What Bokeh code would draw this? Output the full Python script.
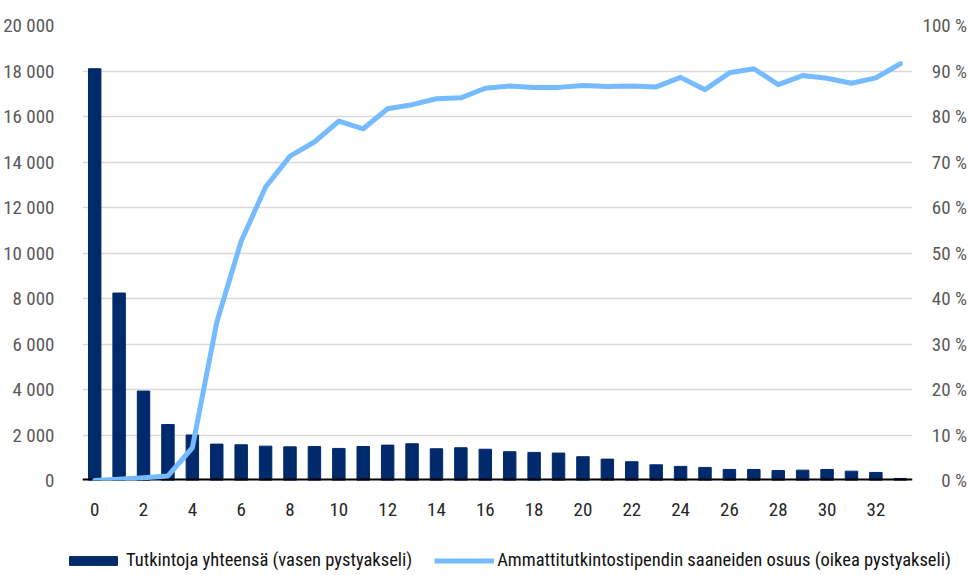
from bokeh.plotting import figure
from bokeh.layouts import column, row
from bokeh.models import (Range1d, LinearAxis, FixedTicker, Legend, LegendItem, ColumnDataSource)
from bokeh.embed import file_html
from bokeh.resources import INLINE

# ---- data ----
years = list(range(34))
x_tick_values = list(range(0, 33, 2))
degrees_total = [18100, 8240, 3930, 2460, 2000, 1600, 1570, 1510, 1480, 1495,
                 1410, 1495, 1555, 1615, 1395, 1440, 1375, 1265, 1235, 1205,
                 1045, 940, 825, 690, 620, 575, 485, 485, 440, 455,
                 485, 410, 355, 90]
grant_share_pct = [0.0, 0.3, 0.6, 1.0, 7.2, 34.8, 52.6, 64.5, 71.3, 74.4,
                   79.0, 77.3, 81.7, 82.6, 83.9, 84.1, 86.2, 86.7, 86.4, 86.4,
                   86.8, 86.6, 86.7, 86.5, 88.6, 85.9, 89.6, 90.5, 87.0, 89.0,
                   88.4, 87.3, 88.5, 91.6]
left_ticks = list(range(0, 20001, 2000))
left_labels = ["0", "2 000", "4 000", "6 000", "8 000", "10 000", "12 000",
               "14 000", "16 000", "18 000", "20 000"]
right_ticks = list(range(0, 101, 10))
right_labels = ["0 %", "10 %", "20 %", "30 %", "40 %", "50 %", "60 %",
                "70 %", "80 %", "90 %", "100 %"]
series_names = ["Tutkintoja yhteensä (vasen pystyakseli)",
                "Ammattitutkintostipendin saaneiden osuus (oikea pystyakseli)"]

FONT = "Roboto Condensed"
BAR_COLOR = "#002A6B"
LINE_COLOR = "#76BAFF"
GRID_COLOR = "#D9D9D9"
LABEL_COLOR = "#595959"

src = ColumnDataSource(dict(x=years, total=degrees_total, share=grant_share_pct))

p = figure(width=970, height=520, output_backend="svg", toolbar_location=None,
           x_range=Range1d(-0.5, 33.5), y_range=Range1d(0, 20000),
           min_border_left=82, min_border_right=55, min_border_top=25,
           min_border_bottom=40)
p.outline_line_color = None
p.extra_y_ranges = {"pct": Range1d(0, 100)}

bars = p.vbar(x="x", top="total", width=0.51, color=BAR_COLOR, source=src)
p.hspan(y=[0], line_color="black", line_width=4)
line = p.line(x="x", y="share", line_color=LINE_COLOR, line_width=5,
              line_join="round", line_cap="round", y_range_name="pct", source=src)

# axes
p.xaxis.ticker = FixedTicker(ticks=x_tick_values)
p.xaxis.axis_line_color = None
p.xaxis.major_tick_line_color = None
p.xaxis.minor_tick_line_color = None
p.xaxis.major_label_standoff = 16
p.xaxis.major_label_text_font = FONT
p.xaxis.major_label_text_font_size = "19px"
p.xaxis.major_label_text_color = "#262626"

p.yaxis.ticker = FixedTicker(ticks=left_ticks)
p.yaxis.major_label_overrides = dict(zip(left_ticks, left_labels))
p.yaxis.axis_line_color = None
p.yaxis.major_tick_line_color = None
p.yaxis.minor_tick_line_color = None
p.yaxis.major_label_standoff = 22
p.yaxis.major_label_text_font = FONT
p.yaxis.major_label_text_font_size = "19px"
p.yaxis.major_label_text_color = LABEL_COLOR

fig_space = "\u2007"
max_len = max(len(s) for s in right_labels)
padded = [fig_space * (max_len - len(s)) + s for s in right_labels]
raxis = LinearAxis(y_range_name="pct", ticker=FixedTicker(ticks=right_ticks))
raxis.major_label_overrides = dict(zip(right_ticks, padded))
raxis.axis_line_color = None
raxis.major_tick_line_color = None
raxis.minor_tick_line_color = None
raxis.major_label_standoff = 4
raxis.major_label_text_font = FONT
raxis.major_label_text_font_size = "19px"
raxis.major_label_text_color = LABEL_COLOR
p.add_layout(raxis, "right")

p.xgrid.grid_line_color = None
p.ygrid.ticker = FixedTicker(ticks=left_ticks)
p.ygrid.grid_line_color = GRID_COLOR
p.ygrid.grid_line_width = 1.5

# legend strip (separate figure; its key renderers sit outside the visible range)
lg = figure(width=970, height=55, output_backend="svg", toolbar_location=None,
            x_axis_type=None, y_axis_type=None, x_range=Range1d(0, 1),
            y_range=Range1d(0, 1), min_border=0)
lg.outline_line_color = None
lg.xgrid.grid_line_color = None
lg.ygrid.grid_line_color = None
key_src = ColumnDataSource(dict(x=[-10, -9], total=[0, 0], share=[0, 0]))
kbar = lg.vbar(x="x", top="total", width=0.5, color=BAR_COLOR, source=key_src)
kline = lg.line(x="x", y="share", line_color=LINE_COLOR, line_width=5,
                line_cap="butt", source=key_src)
legend = Legend(items=[LegendItem(label=series_names[0], renderers=[kbar]),
                       LegendItem(label=series_names[1], renderers=[kline])],
                location=(63, 4), orientation="horizontal", padding=0, margin=0,
                border_line_alpha=0, background_fill_alpha=0,
                glyph_width=60, glyph_height=11, label_standoff=3, spacing=22,
                label_text_font=FONT, label_text_font_size="18.5px",
                label_text_color="#111111")
lg.add_layout(legend, "center")

layout = column(p, row(lg), spacing=0)
open("out.html", "w").write(file_html(layout, INLINE))
